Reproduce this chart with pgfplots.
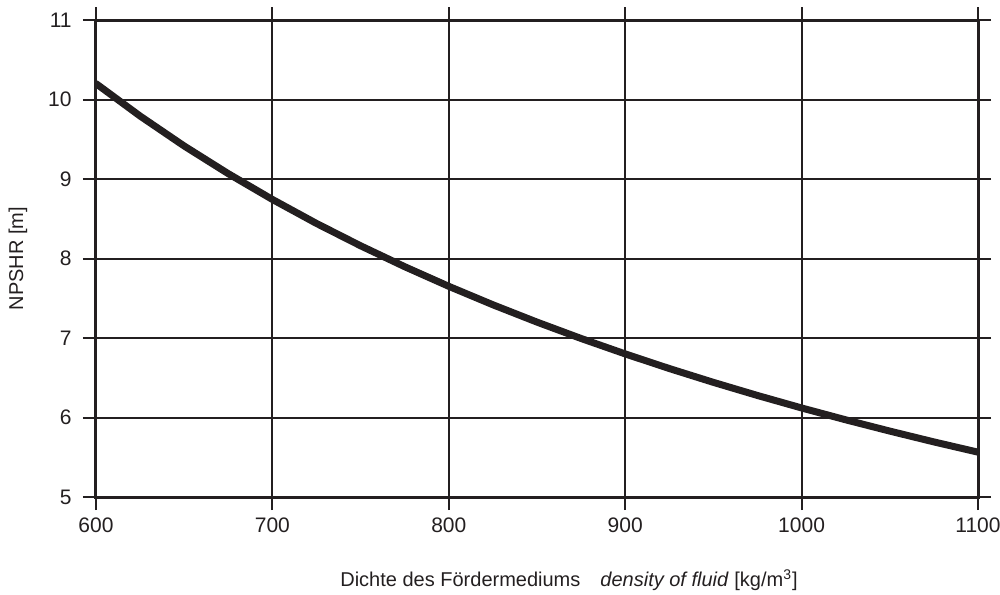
\documentclass[border=0pt]{standalone}
\usepackage{fontspec}
\setmainfont{Liberation Sans}
\usepackage{pgfplots}
\pgfplotsset{compat=1.18}
\definecolor{ink}{HTML}{231F20}
\begin{document}
\fontsize{10.5}{12}\selectfont
\begin{tikzpicture}
\useasboundingbox (-48pt,-48.5pt) rectangle (452pt,248.5pt);
\begin{axis}[
  at={(0,0)}, anchor=south west,
  scale only axis,
  width=441pt, height=238.5pt,
  xmin=600, xmax=1100, ymin=5, ymax=11,
  xtick={600,700,...,1100}, ytick={5,6,...,11},
  grid=major,
  major grid style={ink, line width=1pt},
  axis line style={ink, line width=1.5pt},
  tick align=outside,
  major tick length=6.5pt,
  tick style={ink, line width=1pt},
  /pgf/number format/assume math mode=true,
  /pgf/number format/1000 sep={},
  tick label style={font=\fontsize{10.5}{12}\selectfont, text=ink},
  yticklabel style={xshift=-2pt},
  label style={font=\fontsize{10}{12}\selectfont, text=ink},
  xlabel={Dichte des Fördermediums\quad\textit{density of fluid} [kg/m\textsuperscript{3}]},
  ylabel={NPSHR [m]},
  xlabel style={at={(axis description cs:0.5,-0.174)}, anchor=center, xshift=16pt},
  ylabel style={at={(axis description cs:-0.0884,0.5)}, anchor=center, rotate=0},
]
\addplot[ink, line width=3.5pt, line cap=round] coordinates {
(600,10.20) (625,9.792) (650,9.415) (675,9.067) (700,8.743) (725,8.441)
(750,8.160) (775,7.897) (800,7.650) (825,7.418) (850,7.200) (875,6.994)
(900,6.800) (925,6.616) (950,6.442) (975,6.277) (1000,6.120) (1025,5.971)
(1050,5.829) (1075,5.693) (1100,5.564)
};
\end{axis}
\end{tikzpicture}
\end{document}
